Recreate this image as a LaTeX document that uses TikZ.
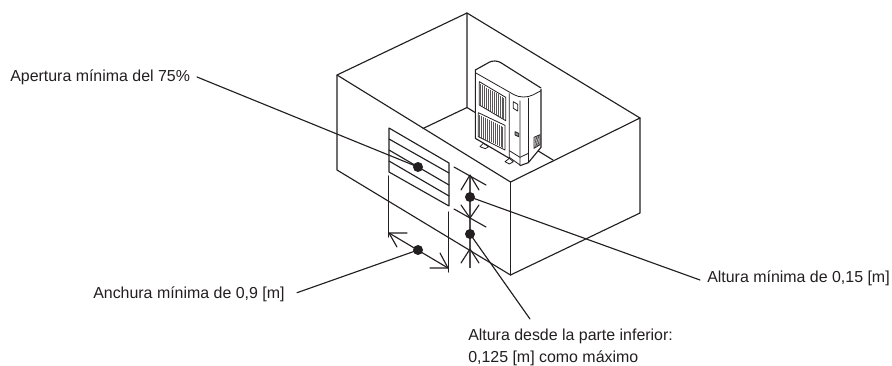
\documentclass[tikz,border=0pt]{standalone}
\usepackage{fontspec}
\setmainfont{Liberation Sans}
\definecolor{ink}{HTML}{231F20}
\tikzset{
  ln/.style={draw=ink,line width=0.85pt,line cap=round,line join=round},
  thin ln/.style={draw=ink,line width=0.6pt,line join=round},
  dotmark/.style={circle,fill=ink,inner sep=0pt,minimum size=7.5pt},
  lbl/.style={text=ink,font=\fontsize{11.95}{16.5}\selectfont,inner sep=0pt,anchor=west,align=left},
  dimln/.style={draw=ink!80,line width=1.2pt}
}
\begin{document}
\begin{tikzpicture}[x=0.75pt,y=-0.75pt]
\useasboundingbox (0,0) rectangle (892,365);
\fill[white] (0,0) rectangle (892,365);
% room
\coordinate (tb) at (467,13);
\coordinate (tl) at (337,75);
\coordinate (tr) at (640,118);
\coordinate (fc) at (510.5,182);
\coordinate (bl) at (337,170);
\coordinate (bc) at (510.5,275);
\coordinate (br) at (640,213);
\coordinate (fb) at (467,107.5);
\draw[ln] (tl) -- (tb) -- (tr) -- (br) -- (bc) -- (bl) -- cycle;
\draw[ln] (tl) -- (fc) -- (tr);
\draw[ln] (fc) -- (bc);
\draw[ln] (tb) -- (fb) -- (423,128.5);
\draw[ln] (fb) -- (553,160);
% outdoor unit
\begin{scope}[shift={(460,50)},x=0.25pt,y=-0.25pt]
\fill[white] (46,60) -- (100,28) -- (118,28) -- (240,108) -- (243,118) -- (243,292) -- (205,340) -- (180,348) -- (145,325) -- (46,265) -- cycle;
\draw[ln] (46,60) -- (46,265) -- (148,325) (180,347) -- (205,338) -- (243,292) -- (243,118);
\draw[ln,rounded corners=5pt] (46,60) -- (105,27) -- (243,114);
\draw[thin ln,rounded corners=8pt] (46,68) -- (190,150) -- (243,122);
\draw[thin ln] (148,130) -- (148,322) -- (180,345) -- (180,152);
\draw[thin ln] (205,143) -- (205,338);
\draw[thin ln] (148,302) -- (180,322) -- (205,310);
% grilles
\draw[thin ln,fill=white] (58,95) -- (137,142) -- (137,212) -- (58,165) -- cycle;
\draw[thin ln,fill=white] (55,188) -- (135,226) -- (135,300) -- (55,260) -- cycle;
\foreach \i in {0,1,...,12}{
  \pgfmathsetmacro{\xx}{62+\i*5.8}
  \pgfmathsetmacro{\ya}{97+(\xx-58)*0.595+3}
  \pgfmathsetmacro{\yb}{\ya+64}
  \draw[draw=ink!75,line width=.6pt] (\xx,\ya) -- (\xx,\yb);
  \pgfmathsetmacro{\xb}{59+\i*5.8}
  \pgfmathsetmacro{\yc}{190+(\xb-55)*0.5+3}
  \pgfmathsetmacro{\yd}{\yc+65}
  \draw[draw=ink!75,line width=.6pt] (\xb,\yc) -- (\xb,\yd);
}
% panel details
\draw[thin ln] (160,155) -- (173,163) -- (173,183) -- (160,175) -- cycle;
\draw[thin ln,fill=ink!50] (165,245) -- (176,250) -- (176,260) -- (165,255) -- cycle;
\draw[thin ln] (222,262) -- (240,254) -- (240,284) -- (222,295) -- cycle;
\foreach \i in {0,1,...,7}{
  \draw[draw=ink,line width=.35pt] (224,{265+\i*3.6}) -- (238,{258+\i*3.6});
}
% feet
\draw[thin ln] (60,290) -- (70,280) -- (86,290) -- (76,296) -- cycle;
\draw[thin ln] (135,335) -- (148,325) -- (160,335) -- (148,342) -- cycle;
\end{scope}
% louvre
\coordinate (la) at (389,128);
\coordinate (lb) at (449,163);
\coordinate (lc) at (449,206);
\coordinate (ld) at (389,172);
\fill[white] (la) -- (lb) -- (lc) -- (ld) -- cycle;
\draw[ln] (la) -- (lb) -- (lc) -- (ld) -- cycle;
\draw[ln] (389,139) -- (449,173);
\draw[ln] (389,150) -- (449,185);
\draw[ln] (389,161) -- (449,196);
% width dimension
\coordinate (wa) at (388.5,176);
\coordinate (wb) at (388.5,237);
\coordinate (wc) at (448.5,212);
\coordinate (wd) at (448.5,272);
\coordinate (wl) at (389,233);
\coordinate (wr) at (448,268);
\draw[ln] (wa) -- (wb);
\draw[ln] (wc) -- (wd);
\draw[ln] (407,233) -- (wl) -- (397,247);
\draw[ln] (430,268) -- (wr) -- (440,253);
\draw[ln] (wl) -- (wr);
% height dimension
\coordinate (ht) at (470,175);
\coordinate (hb) at (470,268);
\draw[dimln] (ht) -- (hb);
\draw[ln] (454,167) -- (486,185);
\draw[ln] (454,209) -- (486,227);
\draw[ln] (461,190) -- (ht) -- (479,190);
\draw[ln] (461,205) -- (470,218) -- (479,205);
\draw[ln] (461,263) -- (470,249) -- (479,263);
% dots
\node[dotmark] (d1) at (418,167) {};
\node[dotmark] (d2) at (418,250) {};
\node[dotmark] (d3) at (470,197) {};
\node[dotmark] (d4) at (470,234) {};
% labels
\node[lbl] (l1) at (10,77) {Apertura mínima del 75\%};
\node[lbl] (l2) at (93,294) {Anchura mínima de 0,9 [m]};
\node[lbl] (l3) at (707,278) {Altura mínima de 0,15 [m]};
\node[lbl] (l4) at (468,347) {Altura desde la parte inferior:\\0,125 [m] como máximo};
% leaders
\coordinate (e1) at (197,77);
\coordinate (e2) at (297,292.7);
\coordinate (e3) at (700,280);
\coordinate (e4) at (530,319);
\draw[ln] (e1) -- (d1.center);
\draw[ln] (e2) -- (d2.center);
\draw[ln] (e3) -- (d3.center);
\draw[ln] (e4) -- (d4.center);
\end{tikzpicture}
\end{document}
